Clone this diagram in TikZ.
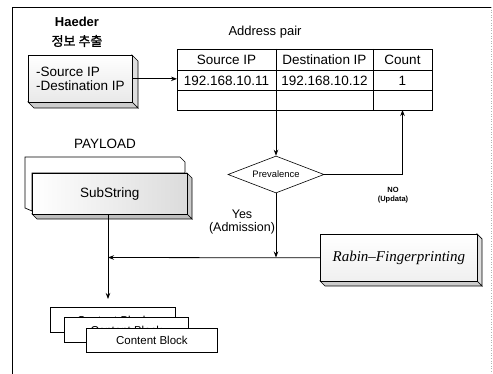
\documentclass[tikz,border=0pt]{standalone}
\usepackage{fontspec}
\setmainfont{Liberation Sans}
\newfontfamily\krfont{Noto Sans CJK KR}[FakeBold=1.5]
\newfontfamily\rabinfont{Liberation Serif}
\usetikzlibrary{arrows.meta,shapes.geometric,calc}
\tikzset{
  fs/.style={font=\fontsize{#1}{#1}\selectfont},
  face/.style={draw, line width=0.7pt, fill=gray!35},
  frontbox/.style={draw, line width=0.7pt, anchor=north west, inner sep=0pt},
  cell/.style={inner sep=0pt, fs=13.5},
  cbox/.style={draw, line width=0.8pt, fill=white, anchor=north west, inner sep=0pt, fs=11.5},
  conn/.style={line width=0.8pt},
  arr/.style={conn, -{Stealth[length=6pt,width=4.5pt]}},
}
\begin{document}
\begin{tikzpicture}[x=1pt,y=-1pt]
\useasboundingbox (0,0) rectangle (493,374);
% outer frame
\draw[line width=0.8pt] (12,374) -- (12,7) -- (492,7);
\draw[gray!60, dotted, line width=0.6pt] (491,7) -- (491,374);

% header labels
\node[font=\bfseries\fontsize{13}{13}\selectfont] (haeder) at (77,22) {Haeder};
\node[font=\krfont\fontsize{13}{13}\selectfont] (korean) at (77,41) {정보 추출};

% header 3D box
\path[face, fill=gray!25] (132,55) -- (138,61) -- (138,108) -- (132,102) -- cycle;
\path[face, fill=gray!40] (28,102) -- (34,108) -- (138,108) -- (132,102) -- cycle;
\node[frontbox, minimum width=104, minimum height=47, top color=white, bottom color=gray!18,
      align=left, fs=13.5] (hbox) at (28,55) {-Source IP\\[1pt]-Destination IP};

% address pair table
\node[fs=13] (addr) at (265,32) {Address pair};
\node[draw, line width=0.8pt, anchor=north west, minimum width=255, minimum height=61, inner sep=0pt] (table) at (177,49) {};
\draw[line width=0.7pt] (177,70) -- (432,70) (177,90) -- (432,90)
  (276,49) -- (276,110) (373,49) -- (373,110);
\node[cell] (h1) at (226.5,60) {Source IP};
\node[cell] (h2) at (324.5,60) {Destination IP};
\node[cell] (h3) at (402.5,60) {Count};
\node[cell] (d1) at (226.5,80.5) {192.168.10.11};
\node[cell] (d2) at (324.5,80.5) {192.168.10.12};
\node[cell] (d3) at (402.5,80.5) {1};
\coordinate (tdown) at (276,110);
\coordinate (tup) at (402.5,110);

\draw[arr] (hbox.east) -- (hbox.east -| table.west);

% prevalence diamond
\node[diamond, draw, line width=0.6pt, minimum width=96, minimum height=37, aspect=2.6, inner sep=0pt, fs=9.4] (prev) at (276,174.5) {Prevalence};
\draw[arr] (tdown) -- (prev.north);
\coordinate (nocorner) at (402.5,174.5);
\draw[arr] (prev.east) -- (nocorner) -- (tup);
\node[font=\bfseries\fontsize{7.5}{9.5}\selectfont, align=center] (nolab) at (393,195) {NO\\(Updata)};
\node[fs=12.5, align=center] (yeslab) at (242,222) {Yes\\[1pt](Admission)};

% Rabin fingerprinting 3D box
\path[face, fill=gray!25] (477,234) -- (482,239) -- (482,286) -- (477,281) -- cycle;
\path[face, fill=gray!40] (320,281) -- (325,286) -- (482,286) -- (477,281) -- cycle;
\node[frontbox, minimum width=157, minimum height=47, top color=white, bottom color=gray!12,
      font=\rabinfont\itshape\fontsize{15}{15}\selectfont] (rabin) at (320,234) {Rabin–Fingerprinting};
\coordinate (j) at (108,257.5);
\draw[arr] (prev.south) -- (prev.south |- j);
\draw[arr] (rabin.west) -- (j);

% payload box
\node[fs=13.5] (payload) at (105,144) {PAYLOAD};
\path[draw, line width=0.7pt, fill=white] (25,208) -- (25,157) -- (180,157) -- (185,162) -- (185,173) -- (32,173) -- (32,211) -- cycle;
\path[face, fill=gray!40] (187,173) -- (192,178) -- (192,219) -- (187,214) -- cycle;
\path[face, fill=gray!50] (32,214) -- (37,219) -- (192,219) -- (187,214) -- cycle;
\node[frontbox, minimum width=155, minimum height=41, left color=white, right color=gray!28,
      fs=13.5] (sub) at (32,173) {SubString};

% content blocks
\node[cbox, minimum width=125, minimum height=25] (cb1) at (50,307) {Content Block};
\node[cbox, minimum width=124, minimum height=25] (cb2) at (64,317) {Content Block};
\node[cbox, minimum width=131, minimum height=24] (cb3) at (86,328) {Content Block};

\draw[conn] (sub.south -| j) -- (j);
\draw[arr, shorten >=8pt] (j) -- (j |- cb1.north);
\end{tikzpicture}
\end{document}
